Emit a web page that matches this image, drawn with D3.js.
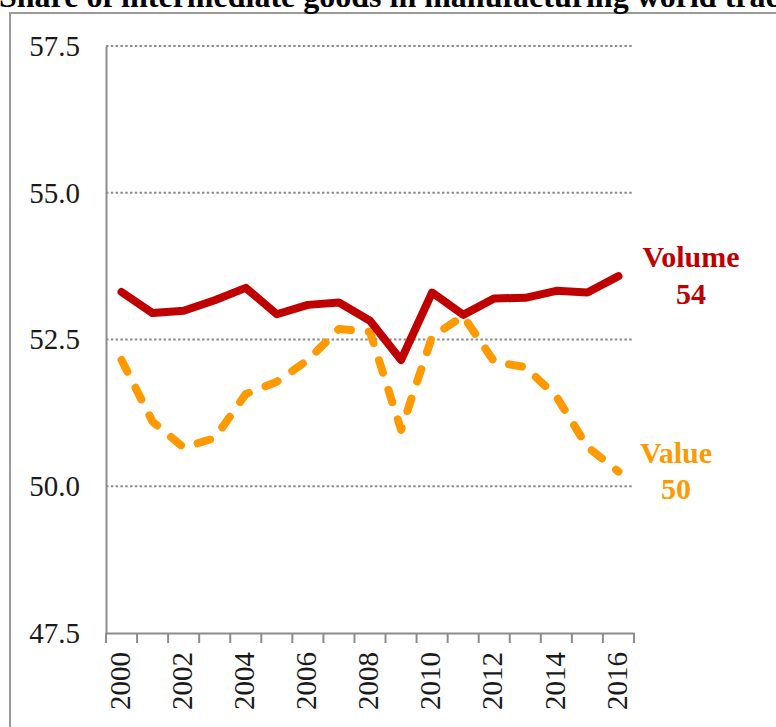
<!DOCTYPE html>
<html lang="en">
<head>
    <meta charset="UTF-8">
    <script src="https://cdn.jsdelivr.net/npm/d3@7"></script>
    <title>Share of intermediate goods in manufacturing world trade</title>
    <style>
        html,
        body {
            margin: 0px;
            padding: 0px;
            background-color: #ffffff;
            font-family: "Liberation Serif", "DejaVu Serif", serif;
        }
        svg {
            display: block;
        }
    </style>
</head>
<body>
    <div id="chart"></div>
    <script>

        // chart data
        let title = 'Share of intermediate goods in manufacturing world trade';
        let years = [2000, 2001, 2002, 2003, 2004, 2005, 2006, 2007, 2008,
                     2009, 2010, 2011, 2012, 2013, 2014, 2015, 2016];
        let volume = [53.31, 52.95, 52.99, 53.17, 53.38, 52.93, 53.09, 53.13, 52.82,
                      52.15, 53.30, 52.92, 53.20, 53.21, 53.33, 53.30, 53.58];
        let value = [52.15, 51.10, 50.66, 50.82, 51.57, 51.78, 52.15, 52.68, 52.63,
                     50.96, 52.55, 52.90, 52.12, 52.03, 51.53, 50.67, 50.25];
        let yTicks = [47.5, 50.0, 52.5, 55.0, 57.5];
        let seriesNames = ['Volume', 'Value'];
        let endLabels = ['54', '50'];

        let width = 776;
        let height = 727;

        let svg = d3.select('#chart').append('svg')
            .attr('width', width)
            .attr('height', height);

        // outer frame (cut off by the picture edge)
        svg.append('rect')
            .attr('x', 10).attr('y', 13)
            .attr('width', 900).attr('height', 900)
            .attr('fill', 'none')
            .attr('stroke', '#9a9a9a')
            .attr('stroke-width', 2);

        // title runs past the right edge, as in the source picture
        svg.append('text')
            .attr('x', -1).attr('y', 7)
            .attr('font-size', 32)
            .attr('font-weight', 'bold')
            .attr('fill', '#000')
            .text(title);

        let x = d3.scaleBand().domain(years).range([106, 634]).padding(0);
        let y = d3.scaleLinear().domain([47.5, 57.5]).range([633, 46]);
        let cx = d => x(d) + x.bandwidth() / 2;

        // dotted grid
        svg.append('g')
            .selectAll('line')
            .data(yTicks.filter(d => d > 47.5))
            .join('line')
            .attr('x1', 106).attr('x2', 634)
            .attr('y1', d => y(d)).attr('y2', d => y(d))
            .attr('stroke', '#8c8c8c')
            .attr('stroke-width', 2)
            .attr('stroke-dasharray', '2.5,2.3');

        // y axis
        let yAxis = svg.append('g')
            .attr('transform', 'translate(106,0)')
            .call(d3.axisLeft(y).tickValues(yTicks).tickSize(0).tickPadding(26).tickFormat(d3.format('.1f')));
        yAxis.select('.domain').attr('stroke', '#8c8c8c').attr('stroke-width', 2);
        yAxis.selectAll('text')
            .attr('font-family', '"Liberation Serif", serif')
            .attr('font-size', 29)
            .attr('fill', '#1a1a1a');

        // x axis: ticks sit between categories
        let xAxis = svg.append('g')
            .attr('transform', 'translate(0,633)')
            .call(d3.axisBottom(x).tickSize(0).tickFormat(d => d % 2 === 0 ? d : ''));
        xAxis.select('.domain').attr('stroke', '#8c8c8c').attr('stroke-width', 2);
        xAxis.selectAll('text')
            .attr('font-family', '"Liberation Serif", serif')
            .attr('font-size', 29)
            .attr('fill', '#1a1a1a')
            .attr('transform', 'rotate(-90)')
            .attr('text-anchor', 'end')
            .attr('x', -19)
            .attr('y', -2)
            .attr('dy', '0.35em');

        svg.append('g')
            .selectAll('line')
            .data(years.concat([null]))
            .join('line')
            .attr('x1', d => d === null ? x.range()[1] : x(d))
            .attr('x2', d => d === null ? x.range()[1] : x(d))
            .attr('y1', 633).attr('y2', 643)
            .attr('stroke', '#8c8c8c')
            .attr('stroke-width', 2);

        let line = d3.line()
            .x((d, i) => cx(years[i]))
            .y(d => y(d));

        svg.append('path')
            .datum(value)
            .attr('d', line)
            .attr('fill', 'none')
            .attr('stroke', '#ff9900')
            .attr('stroke-width', 8)
            .attr('stroke-linecap', 'round')
            .attr('stroke-linejoin', 'round')
            .attr('stroke-dasharray', '13,18');

        svg.append('path')
            .datum(volume)
            .attr('d', line)
            .attr('fill', 'none')
            .attr('stroke', '#c00000')
            .attr('stroke-width', 8)
            .attr('stroke-linecap', 'round')
            .attr('stroke-linejoin', 'round');

        // end labels
        let labelPos = [
            { x: 691, y1: 267, y2: 304, color: '#c00000' },
            { x: 676, y1: 463, y2: 499, color: '#ff9900' }
        ];
        seriesNames.forEach((name, i) => {
            let p = labelPos[i];
            let t = svg.append('text')
                .attr('text-anchor', 'middle')
                .attr('font-size', 30)
                .attr('font-weight', 'bold')
                .attr('fill', p.color);
            t.append('tspan').attr('x', p.x).attr('y', p.y1).text(name);
            t.append('tspan').attr('x', p.x).attr('y', p.y2).text(endLabels[i]);
        });

    </script>
</body>
</html>
